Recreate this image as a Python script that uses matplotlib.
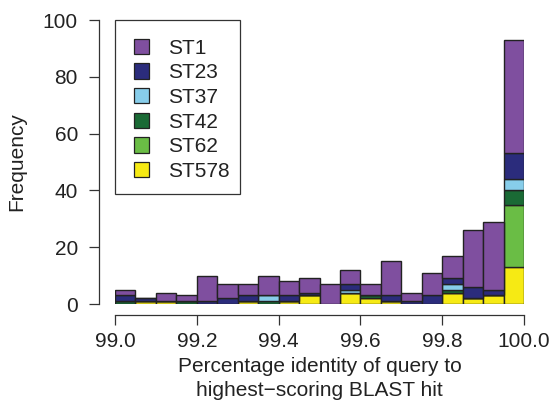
import numpy as np
import matplotlib
matplotlib.use('Agg')
import matplotlib.pyplot as plt
from matplotlib.patches import Patch, Rectangle

plt.rcParams['font.family'] = ['Liberation Sans', 'DejaVu Sans']

# histogram bins: 99.00 .. 100.00 in steps of 0.05
bin_edges = np.round(np.arange(99.0, 100.0001, 0.05), 2)

st_names = ['ST1', 'ST23', 'ST37', 'ST42', 'ST62', 'ST578']
st_colors = ['#7f4f9f', '#2b2c7c', '#87cdea', '#1a6a35', '#6abd45', '#f6ea14']

# counts per bin for each sequence type
st1 = [2, 0, 3, 2, 9, 5, 4, 7, 5, 5, 7, 5, 4, 12, 3, 8, 8, 20, 24, 40]
st23 = [2, 1, 0, 0, 1, 2, 2, 0, 2, 1, 0, 2, 0, 2, 1, 3, 2, 4, 2, 9]
st37 = [0, 0, 0, 0, 0, 0, 0, 2, 0, 0, 0, 1, 0, 0, 0, 0, 2, 0, 0, 4]
st42 = [1, 0, 0, 1, 0, 0, 0, 1, 0, 0, 0, 0, 1, 0, 0, 0, 1, 0, 0, 5]
st62 = [0, 0, 0, 0, 0, 0, 0, 0, 0, 0, 0, 0, 0, 0, 0, 0, 0, 0, 0, 22]
st578 = [0, 1, 1, 0, 0, 0, 1, 0, 1, 3, 0, 4, 2, 1, 0, 0, 4, 2, 3, 13]

series = [st1, st23, st37, st42, st62, st578]

W, H = 553, 412
fig = plt.figure(figsize=(W / 100, H / 100), dpi=100)
ax = fig.add_axes([115 / W, (H - 304) / H, (524 - 115) / W, (304 - 20) / H])

left = bin_edges[:-1]
width = np.diff(bin_edges)
bottom = np.zeros(len(left))
# stack from the bottom up: ST578 first, ST1 on top
for name, col, vals in reversed(list(zip(st_names, st_colors, series))):
    vals = np.array(vals, dtype=float)
    ax.bar(left, vals, width=width, bottom=bottom, align='edge', color=col,
           edgecolor='#222222', linewidth=1.0)
    bottom += vals

ax.set_xlim(99.0, 100.0)
ax.set_ylim(0, 100)

for s in ['top', 'right']:
    ax.spines[s].set_visible(False)
ax.spines['left'].set_position(('outward', 11.5))
ax.spines['bottom'].set_position(('outward', 8))
ax.spines['left'].set_bounds(0, 100)
ax.spines['bottom'].set_bounds(99.0, 100.0)
for s in ['left', 'bottom']:
    ax.spines[s].set_color('#333333')
    ax.spines[s].set_linewidth(0.9)

ax.set_xticks(np.arange(99.0, 100.01, 0.2))
ax.set_xticklabels(['99.0', '99.2', '99.4', '99.6', '99.8', '100.0'])
ax.set_yticks([0, 20, 40, 60, 80, 100])
ax.tick_params(axis='both', length=7.2, width=0.9, color='#333333',
               labelsize=15, labelcolor='#222222')
ax.tick_params(axis='x', pad=5)
ax.tick_params(axis='y', pad=8)

ax.set_ylabel('Frequency', fontsize=15, color='#222222', labelpad=12)
ax.set_xlabel('Percentage identity of query to\nhighest\u2212scoring BLAST hit',
              fontsize=15, color='#222222', labelpad=4, linespacing=1.35)

handles = [Patch(facecolor=c, edgecolor='#222222', linewidth=0.9) for c in st_colors]
leg = ax.legend(handles, st_names, loc='upper left', bbox_to_anchor=(0.0, 1.0),
                fontsize=15, frameon=False, handlelength=0.75,
                handleheight=0.75, handletextpad=0.9, labelspacing=0.27,
                borderpad=0.9, borderaxespad=0.0)
for t in leg.get_texts():
    t.set_color('#222222')

# legend box
fig.patches.append(Rectangle((115 / W, 1 - 194 / H), 125 / W, 174 / H,
                             transform=fig.transFigure, fill=False,
                             edgecolor='#333333', linewidth=0.9))

fig.savefig('out.png', dpi=100)
